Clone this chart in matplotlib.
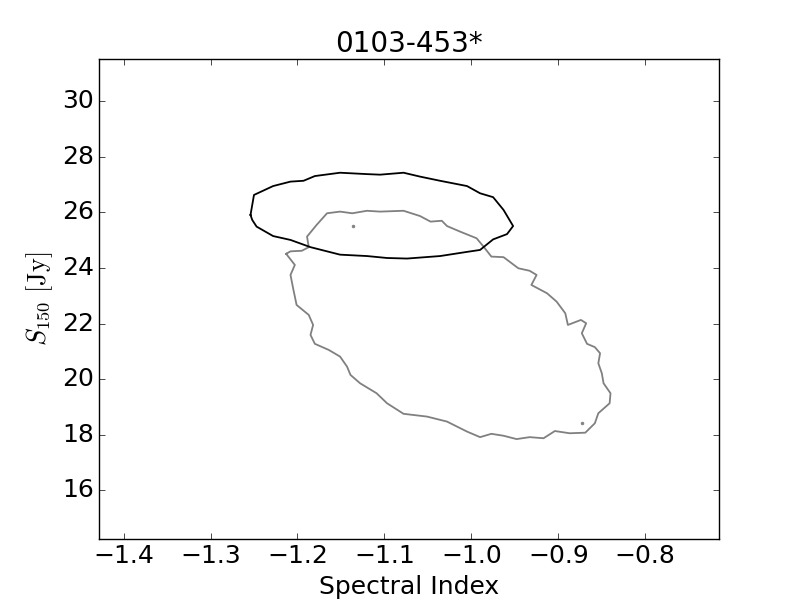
import matplotlib
matplotlib.use('Agg')
import matplotlib.pyplot as plt

# outer (black) contour
black_x = [-1.254, -1.250, -1.228, -1.208, -1.193, -1.180, -1.151, -1.120, -1.105, -1.078,
           -1.059, -1.036, -1.005, -0.990, -0.975, -0.963, -0.952, -0.959, -0.975, -0.990,
           -1.005, -1.036, -1.074, -1.097, -1.120, -1.151, -1.185, -1.208, -1.228, -1.247,
           -1.252, -1.254]
black_y = [25.91, 26.63, 26.95, 27.11, 27.14, 27.31, 27.43, 27.38, 27.36, 27.43,
           27.29, 27.14, 26.95, 26.69, 26.55, 26.09, 25.51, 25.22, 25.03, 24.65,
           24.58, 24.43, 24.34, 24.36, 24.43, 24.48, 24.75, 25.01, 25.15, 25.49,
           25.73, 25.91]

# gray contour
gray_x = [-1.213, -1.208, -1.195, -1.187, -1.189, -1.178, -1.166, -1.151, -1.137, -1.120,
          -1.105, -1.078, -1.059, -1.047, -1.034, -1.028, -1.013, -0.994, -0.986, -0.977,
          -0.963, -0.946, -0.933, -0.925, -0.931, -0.913, -0.902, -0.892, -0.889, -0.874,
          -0.868, -0.873, -0.867, -0.858, -0.852, -0.854, -0.850, -0.848, -0.840, -0.841,
          -0.854, -0.858, -0.869, -0.887, -0.904, -0.917, -0.933, -0.948, -0.963, -0.977,
          -0.990, -1.005, -1.028, -1.051, -1.078, -1.097, -1.109, -1.128, -1.139, -1.143,
          -1.151, -1.164, -1.180, -1.185, -1.182, -1.187, -1.201, -1.205, -1.208, -1.203,
          -1.213]
gray_y = [24.51, 24.60, 24.62, 24.75, 25.13, 25.55, 25.97, 26.03, 25.97, 26.06,
          26.03, 26.06, 25.87, 25.67, 25.70, 25.51, 25.31, 25.07, 24.77, 24.41,
          24.39, 23.99, 23.90, 23.75, 23.39, 23.09, 22.79, 22.37, 21.95, 22.13,
          22.01, 21.65, 21.27, 21.15, 20.93, 20.57, 20.21, 19.85, 19.49, 19.13,
          18.77, 18.41, 18.07, 18.05, 18.13, 17.87, 17.91, 17.84, 17.96, 18.03,
          17.91, 18.11, 18.47, 18.65, 18.75, 19.13, 19.49, 19.85, 20.15, 20.45,
          20.81, 21.05, 21.27, 21.59, 21.95, 22.31, 22.67, 23.27, 23.75, 24.11,
          24.51]

# isolated tiny contour islands
dot_x = [-1.136, -0.873]
dot_y = [25.52, 18.43]

plt.style.use('classic')
plt.rcParams['mathtext.fontset'] = 'cm'

fig, ax = plt.subplots(figsize=(8, 6), dpi=100)
fig.patch.set_facecolor('white')
fig.subplots_adjust(left=0.124, right=0.899, bottom=0.102, top=0.901)

ax.plot(gray_x, gray_y, color='0.5', linewidth=1.3)
ax.plot(black_x, black_y, color='black', linewidth=1.3)
ax.plot(dot_x, dot_y, linestyle='none', marker='o', markersize=2,
        color='0.5', markeredgecolor='0.5')

ax.set_xlim(-1.428, -0.715)
ax.set_ylim(14.25, 31.51)
ax.set_xticks([-1.4, -1.3, -1.2, -1.1, -1.0, -0.9, -0.8])
ax.set_yticks([16, 18, 20, 22, 24, 26, 28, 30])
ax.tick_params(labelsize=18)

ax.set_title('0103-453*', fontsize=20)
ax.set_xlabel('Spectral Index', fontsize=18)
ax.set_ylabel(r'$S_{150}\ [\mathrm{Jy}]$', fontsize=19)

plt.savefig('out.png', dpi=100, facecolor='white')
